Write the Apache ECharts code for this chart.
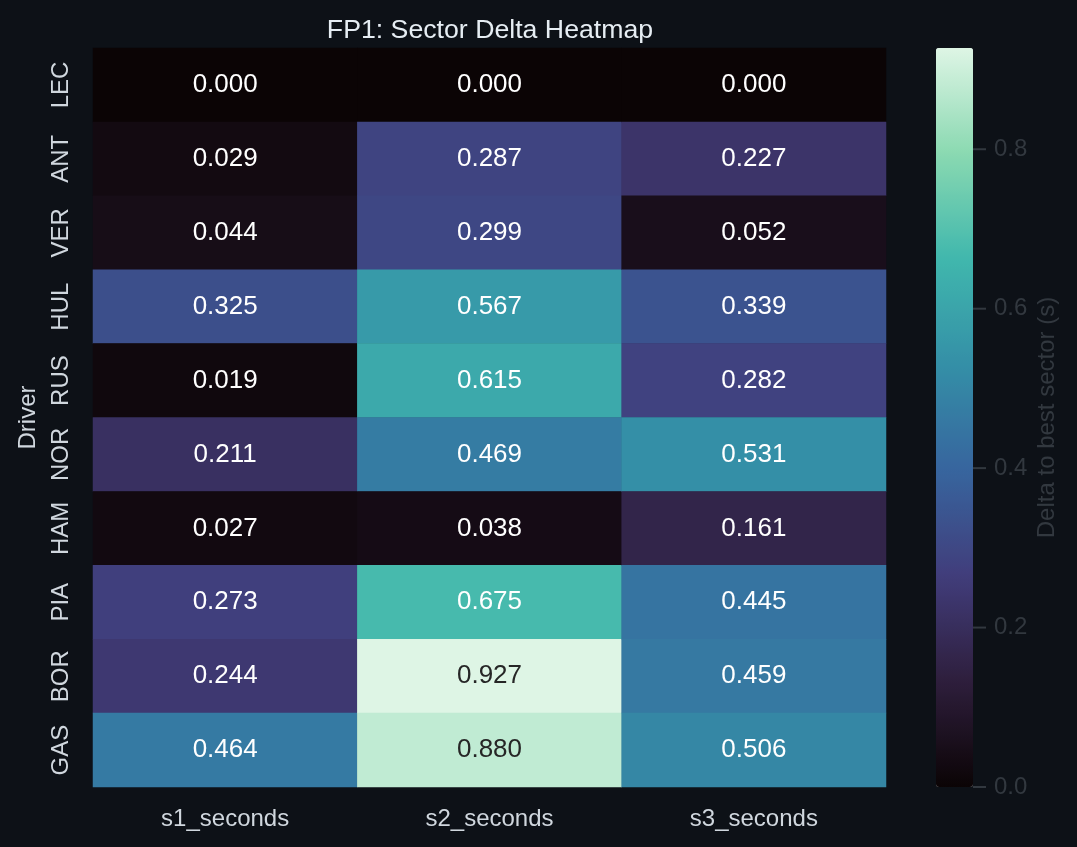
<!DOCTYPE html>
<html>
<head>
<meta charset="utf-8">
<script src="https://cdn.jsdelivr.net/npm/echarts@6/dist/echarts.min.js"></script>
<style>
html, body { margin: 0; padding: 0; background: #0d1117; }
#main { width: 1077px; height: 847px; }
</style>
</head>
<body>
<div id="main"></div>
<script>
// sectors / drivers
var sectors = ['s1_seconds', 's2_seconds', 's3_seconds'];
var drivers = ['LEC', 'ANT', 'VER', 'HUL', 'RUS', 'NOR', 'HAM', 'PIA', 'BOR', 'GAS'];
// delta to best sector, one array per sector, in driver order
var s1 = [0.000, 0.029, 0.044, 0.325, 0.019, 0.211, 0.027, 0.273, 0.244, 0.464];
var s2 = [0.000, 0.287, 0.299, 0.567, 0.615, 0.469, 0.038, 0.675, 0.927, 0.880];
var s3 = [0.000, 0.227, 0.052, 0.339, 0.282, 0.531, 0.161, 0.445, 0.459, 0.506];
var cbTicks = [0.0, 0.2, 0.4, 0.6, 0.8];
var vmax = 0.927;

// mako
var mako = ['#0B0405', '#2E1E3C', '#413D7B', '#37659E', '#348FA7', '#40B7AD', '#8AD9B1', '#DEF5E5'];

var font = 'Liberation Sans, Arial, sans-serif';
var dim = '#32383f';
var cols = [s1, s2, s3];
var data = [];
for (var c = 0; c < cols.length; c++) {
    for (var r = 0; r < drivers.length; r++) {
        var v = cols[c][r];
        data.push({
            value: [c, r, v],
            label: { color: v > 0.75 ? '#262626' : '#ffffff' }
        });
    }
}

var myChart = echarts.init(document.getElementById('main'));
var option = {
    backgroundColor: '#0d1117',
    animation: false,
    title: {
        text: 'FP1: Sector Delta Heatmap',
        left: 485, top: 12, textAlign: 'center',
        textStyle: { color: '#e6edf3', fontSize: 26.7, fontWeight: 'normal', fontFamily: font }
    },
    grid: [
        { left: 93, right: 191, top: 48, bottom: 60 },
        { left: 936, width: 37, top: 48, bottom: 60 }
    ],
    xAxis: [{
        type: 'category', data: sectors, gridIndex: 0,
        axisLine: { show: false }, axisTick: { show: false }, splitLine: { show: false },
        axisLabel: { color: '#d0d7de', fontSize: 24, fontFamily: font, margin: 20 }
    }, {
        type: 'value', gridIndex: 1, show: false, min: 0, max: 1
    }],
    yAxis: [{
        type: 'category', data: drivers, inverse: true, gridIndex: 0,
        name: 'Driver', nameLocation: 'middle', nameGap: 53,
        nameTextStyle: { color: '#d0d7de', fontSize: 24, fontFamily: font },
        axisLine: { show: false }, axisTick: { show: false }, splitLine: { show: false },
        axisLabel: { color: '#d0d7de', fontSize: 24, fontFamily: font, rotate: 90, margin: 20 }
    }, {
        type: 'value', gridIndex: 1, position: 'right', min: 0, max: vmax, interval: 0.2,
        name: 'Delta to best sector (s)', nameLocation: 'middle', nameGap: 62,
        nameTextStyle: { color: dim, fontSize: 24, fontFamily: font },
        axisLine: { show: false }, axisTick: { show: false }, splitLine: { show: false },
        axisLabel: {
            color: dim, fontSize: 24, fontFamily: font, margin: 0,
            formatter: function (v) {
                return cbTicks.indexOf(Math.round(v * 10) / 10) >= 0 ? '{t|}{g|}' + v.toFixed(1) : '';
            },
            rich: {
                t: { width: 13, height: 2, backgroundColor: dim, verticalAlign: 'middle' },
                g: { width: 8, height: 2, verticalAlign: 'middle' }
            }
        }
    }],
    visualMap: {
        type: 'continuous', min: 0, max: vmax, seriesIndex: 0,
        left: 936, top: 48, itemWidth: 37, itemHeight: 739, padding: 0,
        calculable: false, text: null, showLabel: false,
        inRange: { color: mako }
    },
    series: [{
        type: 'heatmap', data: data, xAxisIndex: 0, yAxisIndex: 0,
        label: {
            show: true, fontSize: 26, fontFamily: font,
            formatter: function (p) { return p.value[2].toFixed(3); }
        },
        itemStyle: { borderWidth: 0 },
        emphasis: { disabled: true }
    }, {
        type: 'scatter', data: [], xAxisIndex: 1, yAxisIndex: 1
    }]
};
myChart.setOption(option);
</script>
</body>
</html>
